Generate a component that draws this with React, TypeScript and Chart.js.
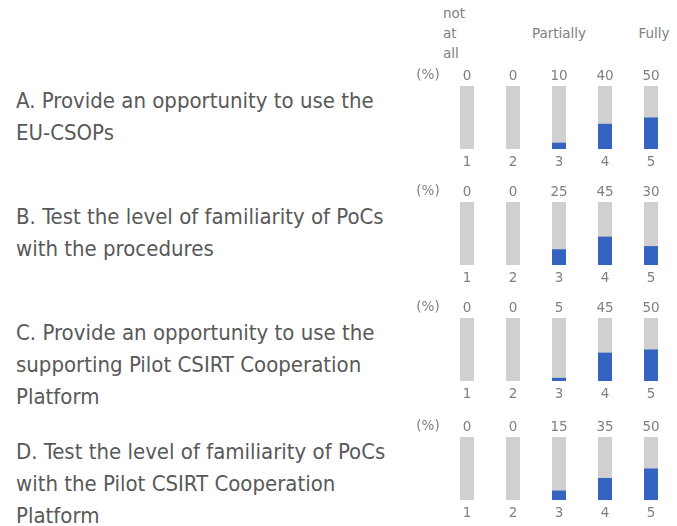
import React, { useEffect, useRef } from "react";
import { Chart, registerables } from "chart.js";

Chart.register(...registerables);

const categories = ["1", "2", "3", "4", "5"];
const scaleHeaderLow = ["not", "at", "all"];
const scaleHeaderMid = "Partially";
const scaleHeaderHigh = "Fully";
const unitLabel = "(%)";

const questionA = ["A. Provide an opportunity to use the", "EU-CSOPs"];
const questionB = ["B. Test the level of familiarity of PoCs", "with the procedures"];
const questionC = ["C. Provide an opportunity to use the", "supporting Pilot CSIRT Cooperation", "Platform"];
const questionD = ["D. Test the level of familiarity of PoCs", "with the Pilot CSIRT Cooperation", "Platform"];

const valuesA = [0, 0, 10, 40, 50];
const valuesB = [0, 0, 25, 45, 30];
const valuesC = [0, 0, 5, 45, 50];
const valuesD = [0, 0, 15, 35, 50];
const fullScale = [100, 100, 100, 100, 100];

const rows = [
  { q: questionA, v: valuesA, top: 86 },
  { q: questionB, v: valuesB, top: 202 },
  { q: questionC, v: valuesC, top: 318 },
  { q: questionD, v: valuesD, top: 437 },
];

const FONT = "'DejaVu Sans Condensed', 'DejaVu Sans', sans-serif";
const SFONT = "'DejaVu Sans', sans-serif";
const SSIZE = 13.5;
const SMALL = "#808080";
const TEXT = "#595959";
const BLUE = "#3563c1";
const GRAY = "#d0d0d0";

const TOP_H = 24;
const PLOT_H = 63;
const BOT_H = 22;

function RowChart({ values }: { values: number[] }) {
  const ref = useRef<HTMLCanvasElement>(null);
  useEffect(() => {
    if (!ref.current) return;
    const unitPlugin = {
      id: "unit",
      afterDraw(chart: any) {
        const ctx = chart.ctx;
        const a = chart.chartArea;
        ctx.save();
        ctx.fillStyle = SMALL;
        ctx.font = `${SSIZE}px ${SFONT}`;
        ctx.textAlign = "center";
        ctx.textBaseline = "middle";
        ctx.fillText(unitLabel, a.left - 16, a.top - 11);
        ctx.restore();
      },
    };
    const chart = new Chart(ref.current, {
      type: "bar",
      data: {
        labels: categories,
        datasets: [
          { data: values, backgroundColor: BLUE, barThickness: 14, inflateAmount: 0, xAxisID: "x" },
          { data: fullScale, backgroundColor: GRAY, barThickness: 14, inflateAmount: 0, xAxisID: "x" },
        ],
      },
      options: {
        animation: false,
        responsive: false,
        devicePixelRatio: 1,
        layout: { padding: { left: 44, right: 3, top: 0, bottom: 0 } },
        plugins: { legend: { display: false }, tooltip: { enabled: false } },
        scales: {
          x: {
            position: "bottom",
            stacked: true,
            offset: true,
            grid: { display: false, drawTicks: false },
            border: { display: false },
            ticks: { color: SMALL, font: { family: SFONT, size: SSIZE }, padding: 5 },
            afterFit: (s: any) => { s.height = BOT_H; },
          },
          xTop: {
            type: "category",
            position: "top",
            labels: values.map(String),
            offset: true,
            grid: { display: false, drawTicks: false },
            border: { display: false },
            ticks: { color: SMALL, font: { family: SFONT, size: SSIZE }, padding: 1 },
            afterFit: (s: any) => { s.height = TOP_H; },
          },
          y: { display: false, min: 0, max: 100, stacked: false },
        },
      } as any,
      plugins: [unitPlugin],
    });
    return () => chart.destroy();
  }, [values]);
  return <canvas ref={ref} width={277} height={TOP_H + PLOT_H + BOT_H} />;
}

export default function App() {
  const small = { fontFamily: SFONT, fontSize: SSIZE, lineHeight: "20px", color: SMALL };
  return (
    <div style={{ position: "absolute", left: 0, top: 0, width: 677, height: 526, background: "#fff", fontFamily: FONT }}>
      <div style={{ ...small, position: "absolute", left: 443, top: 3 }}>
        {scaleHeaderLow.map((t, i) => <div key={i}>{t}</div>)}
      </div>
      <div style={{ ...small, position: "absolute", left: 519, width: 80, textAlign: "center", top: 23 }}>
        {scaleHeaderMid}
      </div>
      <div style={{ ...small, position: "absolute", left: 624, width: 60, textAlign: "center", top: 23 }}>
        {scaleHeaderHigh}
      </div>
      {rows.map((r, i) => (
        <React.Fragment key={i}>
          <div style={{ position: "absolute", left: 16, top: r.top - 1, fontSize: 22, lineHeight: "32px", color: TEXT, whiteSpace: "nowrap" }}>
            {r.q.map((l, j) => <div key={j}>{l}</div>)}
          </div>
          <div style={{ position: "absolute", left: 400, top: r.top - TOP_H }}>
            <RowChart values={r.v} />
          </div>
        </React.Fragment>
      ))}
    </div>
  );
}
